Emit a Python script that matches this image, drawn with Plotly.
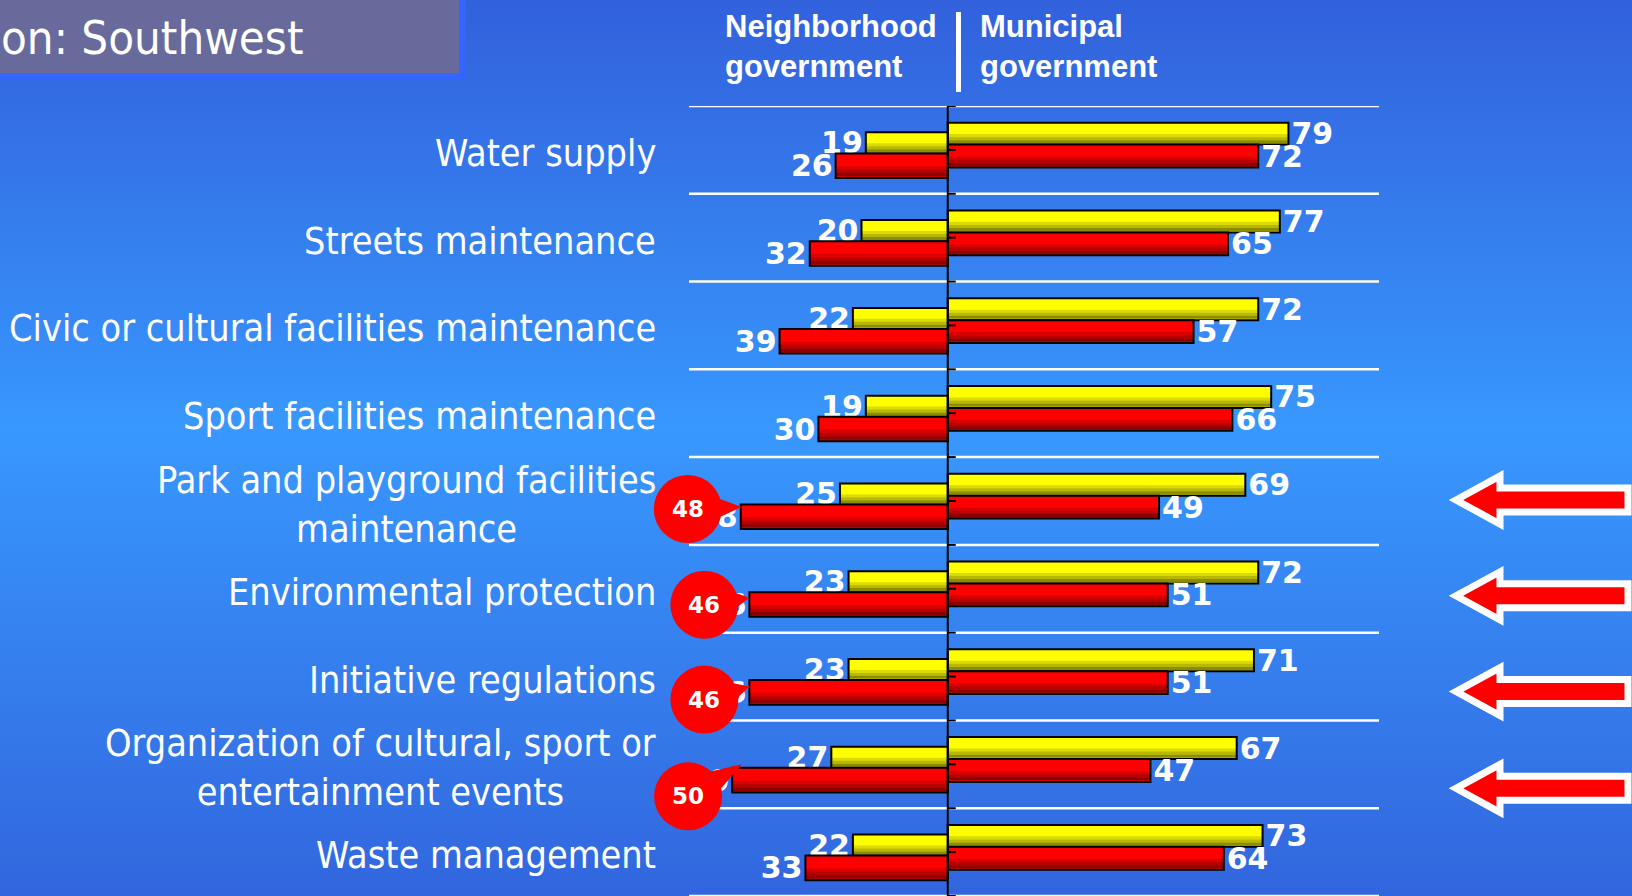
import math
import plotly.graph_objects as go

# ---- data ----
categories = [
    "Water supply",
    "Streets maintenance",
    "Civic or cultural facilities maintenance",
    "Sport facilities maintenance",
    "Park and playground facilities<br>maintenance",
    "Environmental protection",
    "Initiative regulations",
    "Organization of cultural, sport or<br>entertainment events",
    "Waste management",
]
neigh_yellow = [19, 20, 22, 19, 25, 23, 23, 27, 22]
neigh_red = [26, 32, 39, 30, 48, 46, 46, 50, 33]
muni_yellow = [79, 77, 72, 75, 69, 72, 71, 67, 73]
muni_red = [72, 65, 57, 66, 49, 51, 51, 47, 64]

highlighted = [4, 5, 6, 7]
title_text = "on: Southwest"
header_left = "Neighborhood<br>government"
header_right = "Municipal<br>government"

# ---- page geometry (pixels) ----
W, H = 1632, 896
ML, MR, MT, MB = 689, 253, 106, 0
PW, PH = W - ML - MR, H - MT - MB
XMIN, XMAX = -60, 100


def px_x(px):
    return (px - ML) / PW


def px_y(py):
    return 1 - (py - MT) / PH


def data_x(v):
    # paper position of a value on the x axis
    return (v - XMIN) / (XMAX - XMIN)


LABEL_FONT = "DejaVu Sans Condensed, DejaVu Sans, sans-serif"
YELLOW = "#ffff00"
RED = "#ff0000"

idx = list(range(len(categories)))
fig = go.Figure()


def add_bars(values, color, offset, width, sign):
    xs = [sign * v for v in values]
    fig.add_trace(go.Bar(
        y=idx, x=xs, orientation="h", offset=offset, width=width,
        marker=dict(color=color, line=dict(color="black", width=2)),
        text=[str(v) for v in values],
        textposition="outside",
        textfont=dict(family="DejaVu Sans, sans-serif", size=30, color="white", weight="bold"),
        constraintext="none", cliponaxis=False,
        showlegend=False, hoverinfo="skip",
    ))
    # darker bands towards the bottom edge, for the bevelled look
    for k, alpha in enumerate([0.14, 0.28, 0.45]):
        fig.add_trace(go.Bar(
            y=idx, x=xs, orientation="h",
            offset=offset + width * (0.52 + 0.14 * k), width=width * 0.14,
            marker=dict(color="rgba(0,0,0,%.2f)" % alpha, line=dict(width=0)),
            showlegend=False, hoverinfo="skip",
        ))


add_bars(muni_yellow, YELLOW, -0.31, 0.25, 1)
add_bars(muni_red, RED, -0.06, 0.26, 1)
add_bars(neigh_yellow, YELLOW, -0.20, 0.24, -1)
add_bars(neigh_red, RED, 0.04, 0.28, -1)

shapes = []

# background gradient (top dark blue -> light blue -> darker blue)
stops = [(0.0, (50, 96, 220)), (0.48, (56, 152, 254)), (1.0, (50, 102, 222))]


def grad(t):
    for (t0, c0), (t1, c1) in zip(stops[:-1], stops[1:]):
        if t <= t1:
            f = (t - t0) / (t1 - t0)
            return "rgb(%d,%d,%d)" % tuple(round(a + (b - a) * f) for a, b in zip(c0, c1))
    return "rgb(%d,%d,%d)" % stops[-1][1]


band = 8
for y0 in range(0, H, band):
    shapes.append(dict(type="rect", xref="paper", yref="paper", layer="below",
                       x0=px_x(0), x1=px_x(W), y0=px_y(y0 + band + 0.5), y1=px_y(y0),
                       fillcolor=grad((y0 + band / 2) / H), line=dict(width=0)))

# white separators between categories
for i in range(len(categories) + 1):
    shapes.append(dict(type="line", xref="x", yref="y", layer="below",
                       x0=XMIN, x1=XMAX, y0=i - 0.5, y1=i - 0.5,
                       line=dict(color="white", width=2.5)))

# zero axis and its ticks
shapes.append(dict(type="line", xref="x", yref="paper", x0=0, x1=0, y0=-0.02, y1=1,
                   line=dict(color="black", width=2)))
for k in range(2 * len(categories) + 1):
    shapes.append(dict(type="line", xref="x", yref="y", xsizemode="pixel", xanchor=0,
                       x0=0, x1=8, y0=k * 0.5 - 0.5, y1=k * 0.5 - 0.5,
                       line=dict(color="black", width=2)))

# title box
shapes.append(dict(type="rect", xref="paper", yref="paper", layer="above",
                   x0=px_x(0), x1=px_x(466), y0=px_y(79), y1=px_y(0),
                   fillcolor="#3366ff", line=dict(width=0)))
shapes.append(dict(type="rect", xref="paper", yref="paper", layer="above",
                   x0=px_x(0), x1=px_x(459), y0=px_y(73), y1=px_y(0),
                   fillcolor="#676a9b", line=dict(width=0)))

# header divider
shapes.append(dict(type="rect", xref="paper", yref="paper",
                   x0=px_x(956), x1=px_x(961), y0=px_y(92), y1=px_y(12),
                   fillcolor="white", line=dict(width=0)))

annotations = []

# callout bubbles on the highlighted neighborhood values
# (circle centre dx, dy and pointer tip dx, dy in pixels, y up)
bubble_geo = [(-53, -8, 1, -6), (-45, -16, 0, -9), (-45, -23, 0, -10), (-44, -32, 10, 0)]
R = 34
for i, (cx, cy, tx, ty) in zip(highlighted, bubble_geo):
    v = neigh_red[i]
    ax = data_x(-v)
    shapes.append(dict(type="circle", xref="paper", yref="y", xsizemode="pixel", ysizemode="pixel",
                       xanchor=ax, yanchor=i, x0=cx - R, x1=cx + R, y0=cy - R, y1=cy + R,
                       fillcolor=RED, line=dict(width=0)))
    d = math.hypot(tx - cx, ty - cy)
    ux, uy = (tx - cx) / d, (ty - cy) / d
    bx, by = cx + ux * 20, cy + uy * 20
    p1 = (bx - uy * 14, by + ux * 14)
    p2 = (bx + uy * 14, by - ux * 14)
    path = "M %.1f,%.1f L %.1f,%.1f L %.1f,%.1f Z" % (p1[0], p1[1], tx, ty, p2[0], p2[1])
    shapes.append(dict(type="path", xref="paper", yref="y", xsizemode="pixel", ysizemode="pixel",
                       xanchor=ax, yanchor=i, path=path, fillcolor=RED, line=dict(width=0)))
    annotations.append(dict(x=ax, y=i, xref="paper", yref="y", xshift=cx, yshift=cy,
                            xanchor="center", yanchor="middle",
                            text=str(v), showarrow=False,
                            font=dict(family="DejaVu Sans", size=23, color="white", weight="bold")))

# red arrows on the right pointing at the highlighted rows
arrow_dy = [1, -7, -15, -24]
for i, c in zip(highlighted, arrow_dy):
    path = ("M 77,{c} L 121,{a} L 121,{b} L 249,{b} L 249,{e} L 121,{e} L 121,{f} Z"
            .format(c=c, a=c + 24, b=c + 12, e=c - 12, f=c - 24))
    shapes.append(dict(type="path", xref="paper", yref="y", xsizemode="pixel", ysizemode="pixel",
                       xanchor=1, yanchor=i, path=path, fillcolor=RED,
                       line=dict(color="white", width=7)))

# category labels
for i, name in enumerate(categories):
    annotations.append(dict(x=px_x(658), y=i, xref="paper", yref="y", yshift=-3,
                            text=name, showarrow=False, xanchor="right", yanchor="middle",
                            align="center", font=dict(family=LABEL_FONT, size=37.5, color="white")))

# title and headers
annotations.append(dict(x=px_x(-1), y=px_y(38), xref="paper", yref="paper", text=title_text,
                        showarrow=False, xanchor="left", yanchor="middle",
                        font=dict(family=LABEL_FONT, size=47, color="white")))
for x_px, txt in [(723, header_left), (978, header_right)]:
    annotations.append(dict(x=px_x(x_px), y=px_y(46), xref="paper", yref="paper", text=txt,
                            showarrow=False, xanchor="left", yanchor="middle", align="left",
                            font=dict(family="Liberation Sans, Arial, sans-serif", size=31,
                                      color="white", weight="bold")))

fig.update_layout(
    width=W,
    height=H,
    margin=dict(l=ML, r=MR, t=MT, b=MB, pad=0),
    barmode="overlay",
    paper_bgcolor="rgb(54,130,240)",
    plot_bgcolor="rgba(0,0,0,0)",
    showlegend=False,
    shapes=shapes,
    annotations=annotations,
    xaxis=dict(range=[XMIN, XMAX], visible=False, fixedrange=True),
    yaxis=dict(range=[len(categories) - 0.5, -0.5], visible=False, fixedrange=True),
)

fig.write_html("out.html", config={"displayModeBar": False},
               post_script="document.body.style.margin='0px';")
